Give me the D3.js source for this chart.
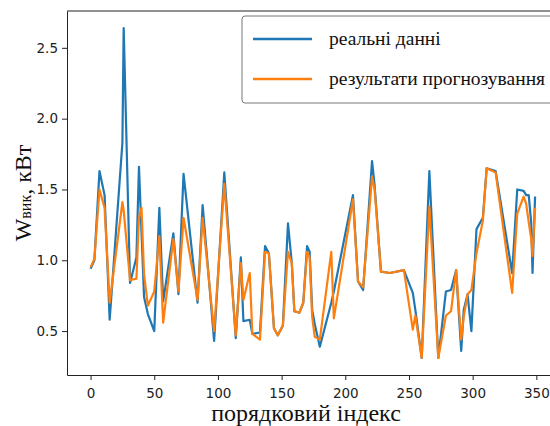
<!DOCTYPE html>
<meta charset="utf-8">
<style>
body {
  margin: 0;
  background-color: #fff;
}
.axis text {
  font: 13.5px "DejaVu Sans", sans-serif;
  fill: #222;
}
.axis path,
.axis line {
  fill: none;
  stroke: #222;
  stroke-width: 1px;
}
.line {
  fill: none;
  stroke-width: 2.2px;
  stroke-linejoin: round;
}
.label {
  font-family: "Liberation Serif", serif;
  fill: #111;
}
</style>
<body>
<script src="https://d3js.org/d3.v7.min.js"></script>
<script>
// sample index and power values (kW)
var idx = [0,3,7,11,15,25,26,31,36,38,40,42,45,50,54,57,65,69,73,84,88,97,105,114,118,120,125,127,133,137,140,144,147,151,155,158,160,164,167,170,172,174,176,180,189,191,206,210,214,221,223,228,235,246,253,255,260,266,273,279,283,287,291,293,296,299,303,308,311,318,331,335,340,342,344,346,347,349];
var real = [0.94,1.00,1.63,1.46,0.58,1.83,2.64,0.84,1.02,1.66,1.20,0.74,0.62,0.50,1.37,0.71,1.19,0.76,1.61,0.70,1.39,0.43,1.62,0.45,1.02,0.57,0.58,0.48,0.49,1.10,1.05,0.52,0.47,0.54,1.26,0.98,0.64,0.63,0.70,1.10,1.06,0.65,0.55,0.39,0.70,0.78,1.46,0.85,0.79,1.70,1.53,0.92,0.91,0.93,0.77,0.65,0.31,1.63,0.31,0.78,0.79,0.93,0.36,0.65,0.76,0.50,1.22,1.30,1.65,1.63,0.91,1.50,1.49,1.46,1.46,1.26,0.91,1.45];
var pred = [0.95,1.01,1.50,1.37,0.70,1.41,1.35,0.86,0.87,1.30,1.37,0.90,0.68,0.78,1.17,0.56,1.15,0.78,1.30,0.72,1.30,0.50,1.54,0.47,0.98,0.72,0.91,0.48,0.44,1.06,1.05,0.52,0.47,0.54,1.06,0.98,0.64,0.63,0.70,1.06,1.02,0.60,0.46,0.44,1.06,0.59,1.43,0.85,0.81,1.59,1.50,0.92,0.91,0.93,0.51,0.61,0.31,1.38,0.31,0.61,0.64,0.93,0.44,0.60,0.76,0.79,1.05,1.28,1.65,1.62,0.77,1.33,1.45,1.40,1.27,1.15,1.03,1.37];
var xTicks = [0, 50, 100, 150, 200, 250, 300, 350];
var yTicks = [0.5, 1.0, 1.5, 2.0, 2.5];
var seriesNames = ["реальні данні", "результати прогнозування"];
var colors = ["#1f77b4", "#ff7f0e"];

var svg = d3.select("body")
    .append("svg")
    .attr("width", 550)
    .attr("height", 426),
    plotL = 67, plotT = 11, plotR = 558, plotB = 375;

var x = d3.scaleLinear().domain([-18.5, 367]).range([plotL, plotR]);
var y = d3.scaleLinear().domain([0.19, 2.76]).range([plotB, plotT]);

svg.append("clipPath")
    .attr("id", "clip")
  .append("rect")
    .attr("x", plotL)
    .attr("y", plotT)
    .attr("width", plotR - plotL)
    .attr("height", plotB - plotT);

var line = d3.line()
    .x(function(d) { return x(d[0]); })
    .y(function(d) { return y(d[1]); });

[real, pred].forEach(function(vals, k) {
  svg.append("path")
      .datum(idx.map(function(v, i) { return [v, vals[i]]; }))
      .attr("class", "line")
      .attr("clip-path", "url(#clip)")
      .attr("stroke", colors[k])
      .attr("d", line);
});

// axes
svg.append("g")
    .attr("class", "axis")
    .attr("transform", "translate(0," + plotB + ")")
    .call(d3.axisBottom(x).tickValues(xTicks).tickSize(5).tickPadding(8).tickSizeOuter(0));

svg.append("g")
    .attr("class", "axis")
    .attr("transform", "translate(" + plotL + ",0)")
    .call(d3.axisLeft(y).tickValues(yTicks).tickSize(5).tickPadding(4).tickSizeOuter(0)
      .tickFormat(d3.format(".1f")));

svg.append("line")
    .attr("x1", plotL).attr("x2", plotR)
    .attr("y1", plotT).attr("y2", plotT)
    .attr("stroke", "#222");

// axis labels
svg.append("text")
    .attr("class", "label")
    .attr("x", 306)
    .attr("y", 421)
    .attr("text-anchor", "middle")
    .style("font-size", "24px")
    .text("порядковий індекс");

var yl = svg.append("text")
    .attr("class", "label")
    .attr("transform", "translate(31,193) rotate(-90)")
    .attr("text-anchor", "middle")
    .style("font-size", "24px");
yl.append("tspan").text("W");
yl.append("tspan").style("font-size", "16px").text("вик");
yl.append("tspan").text(", кВт");

// legend
var lg = svg.append("g")
    .attr("transform", "translate(242,16)");

lg.append("rect")
    .attr("width", 330)
    .attr("height", 87)
    .attr("rx", 3)
    .attr("fill", "#fff")
    .attr("stroke", "#777")
    .attr("stroke-width", 1);

seriesNames.forEach(function(name, k) {
  var yy = 23 + k * 40;
  lg.append("line")
      .attr("x1", 11).attr("x2", 70)
      .attr("y1", yy).attr("y2", yy)
      .attr("stroke", colors[k])
      .attr("stroke-width", 2.5);
  lg.append("text")
      .attr("class", "label")
      .attr("x", 87)
      .attr("y", yy + 6)
      .style("font-size", "19.5px")
      .text(name);
});
</script>
</body>
